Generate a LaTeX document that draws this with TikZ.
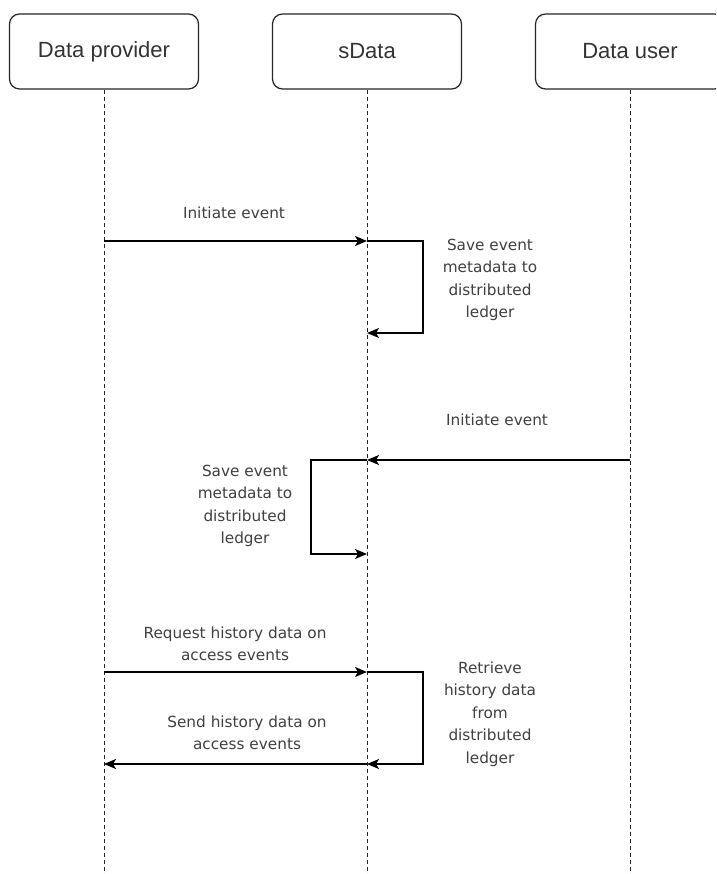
\documentclass[tikz,border=0pt]{standalone}
\usepackage{fontspec}
\setmainfont{DejaVu Sans}
\newfontfamily\boxfont{Liberation Sans}
\usetikzlibrary{arrows.meta}
\begin{document}
\begin{tikzpicture}[x=1pt,y=-1pt,
  actor/.style={draw=black!85, line width=1.2pt, rounded corners=10pt, minimum width=189pt, minimum height=75pt, font=\boxfont\fontsize{22}{26}\selectfont, text=black!80, inner sep=0pt},
  life/.style={draw=black!85, line width=1pt, dash pattern=on 4pt off 3pt},
  msg/.style={draw=black, line width=1.5pt, -{Stealth[length=12pt,width=10pt,inset=3pt]}},
  lbl/.style={font=\fontsize{15.3}{22.5}\selectfont, text=black!75, align=center, inner sep=0pt}
]
\useasboundingbox (0,0) rectangle (716,874);
\clip (0,0) rectangle (716,874);
\fill[white] (0,0) rectangle (716,874);

% actors
\node[actor] (dp) at (104,51.5) {Data provider};
\node[actor] (sd) at (367,51.5) {sData};
\node[actor] (du) at (630,51.5) {Data user};

% lifeline ends
\coordinate (dpend) at (104,874);
\coordinate (sdend) at (367,874);
\coordinate (duend) at (630,874);
\draw[life] (dp.south) -- (dpend);
\draw[life] (sd.south) -- (sdend);
\draw[life] (du.south) -- (duend);

% message points
\coordinate (p1) at (104,241);
\coordinate (s1) at (367,241);
\coordinate (s2) at (367,333);
\coordinate (u3) at (630,460);
\coordinate (s3) at (367,460);
\coordinate (s4) at (367,554);
\coordinate (p5) at (104,672);
\coordinate (s5) at (367,672);
\coordinate (s6) at (367,764);
\coordinate (p6) at (104,764);

% messages
\draw[msg] (p1) -- (s1);
\draw[msg] (s1) -- ++(56,0) |- (s2);
\draw[msg] (u3) -- (s3);
\draw[msg] (s3) -- ++(-56,0) |- (s4);
\draw[msg] (p5) -- (s5);
\draw[msg] (s5) -- ++(56,0) |- (s6);
\draw[msg] (s6) -- (p6);

% labels
\node[lbl] (t1) at (234,213) {Initiate event};
\node[lbl] (t2) at (490,280) {Save event\\metadata to\\distributed\\ledger};
\node[lbl] (t3) at (497,420) {Initiate event};
\node[lbl] (t4) at (245,506) {Save event\\metadata to\\distributed\\ledger};
\node[lbl] (t5) at (235,644) {Request history data on\\access events};
\node[lbl] (t6) at (490,714) {Retrieve\\history data\\from\\distributed\\ledger};
\node[lbl] (t7) at (247,733) {Send history data on\\access events};
\end{tikzpicture}
\end{document}
